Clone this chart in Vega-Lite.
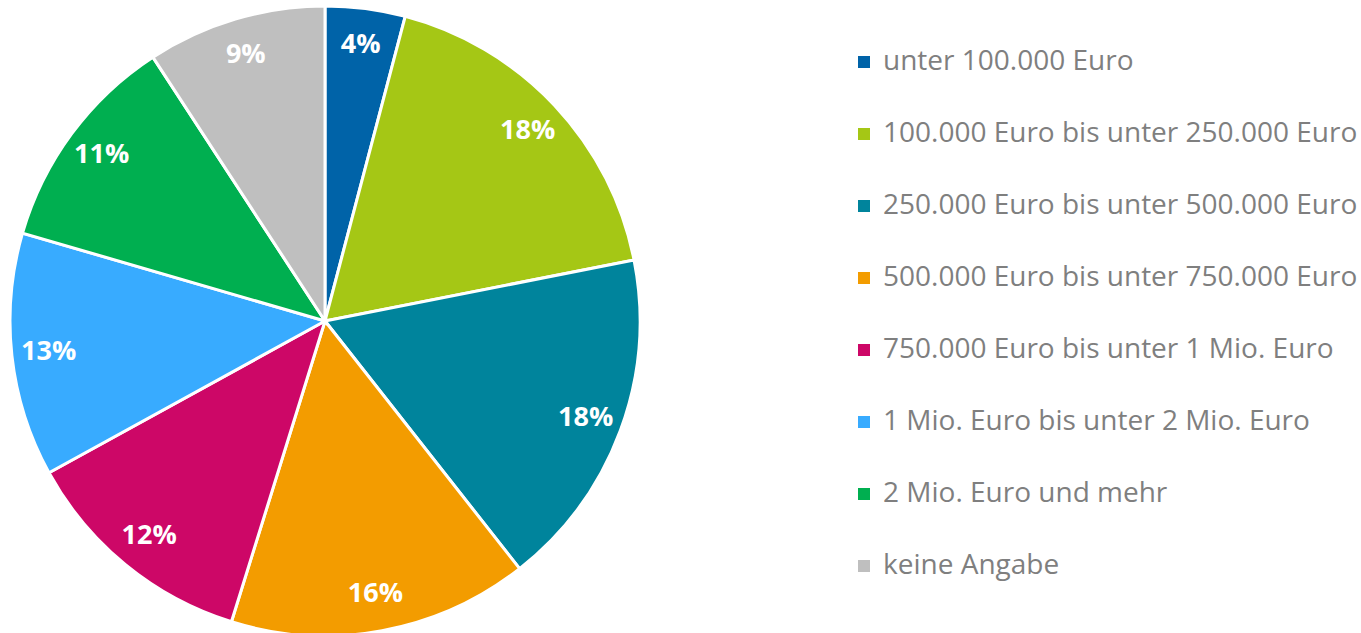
{
  "$schema": "https://vega.github.io/schema/vega-lite/v6.json",
  "width": 650,
  "height": 640,
  "padding": 0,
  "autosize": {"type": "pad"},
  "background": "white",
  "view": {"stroke": null},
  "data": {
    "values": [
      {"idx": 1, "kategorie": "unter 100.000 Euro", "anteil": 4.1, "label": "4%"},
      {"idx": 2, "kategorie": "100.000 Euro bis unter 250.000 Euro", "anteil": 17.8, "label": "18%"},
      {"idx": 3, "kategorie": "250.000 Euro bis unter 500.000 Euro", "anteil": 17.5, "label": "18%"},
      {"idx": 4, "kategorie": "500.000 Euro bis unter 750.000 Euro", "anteil": 15.4, "label": "16%"},
      {"idx": 5, "kategorie": "750.000 Euro bis unter 1 Mio. Euro", "anteil": 12.2, "label": "12%"},
      {"idx": 6, "kategorie": "1 Mio. Euro bis unter 2 Mio. Euro", "anteil": 12.5, "label": "13%"},
      {"idx": 7, "kategorie": "2 Mio. Euro und mehr", "anteil": 11.3, "label": "11%"},
      {"idx": 8, "kategorie": "keine Angabe", "anteil": 9.2, "label": "9%"}
    ]
  },
  "encoding": {
    "theta": {"field": "anteil", "type": "quantitative", "stack": true},
    "order": {"field": "idx", "type": "quantitative"}
  },
  "layer": [
    {
      "mark": {"type": "arc", "outerRadius": 315, "stroke": "white", "strokeWidth": 3},
      "encoding": {
        "color": {
          "field": "kategorie",
          "type": "nominal",
          "sort": ["unter 100.000 Euro", "100.000 Euro bis unter 250.000 Euro", "250.000 Euro bis unter 500.000 Euro", "500.000 Euro bis unter 750.000 Euro", "750.000 Euro bis unter 1 Mio. Euro", "1 Mio. Euro bis unter 2 Mio. Euro", "2 Mio. Euro und mehr", "keine Angabe"],
          "scale": {
            "domain": ["unter 100.000 Euro", "100.000 Euro bis unter 250.000 Euro", "250.000 Euro bis unter 500.000 Euro", "500.000 Euro bis unter 750.000 Euro", "750.000 Euro bis unter 1 Mio. Euro", "1 Mio. Euro bis unter 2 Mio. Euro", "2 Mio. Euro und mehr", "keine Angabe"],
            "range": ["#0063A8", "#A5C715", "#00849C", "#F39C00", "#CD0767", "#38ABFF", "#00AF50", "#BFBFBF"]
          },
          "legend": {
            "orient": "none",
            "legendX": 850,
            "legendY": 47,
            "title": null,
            "symbolType": "square",
            "symbolSize": 144,
            "symbolStrokeWidth": 0,
            "labelFont": "Open Sans",
            "labelFontSize": 28,
            "labelColor": "#7F7F7F",
            "labelOffset": 5,
            "labelLimit": 600,
            "rowPadding": 44,
            "padding": 0,
            "offset": 0
          }
        }
      }
    },
    {
      "mark": {"type": "text", "radius": 278, "font": "Open Sans", "fontWeight": "bold", "fontSize": 27, "fill": "white", "align": "center", "baseline": "middle"},
      "encoding": {
        "text": {"field": "label", "type": "nominal"}
      }
    }
  ]
}
